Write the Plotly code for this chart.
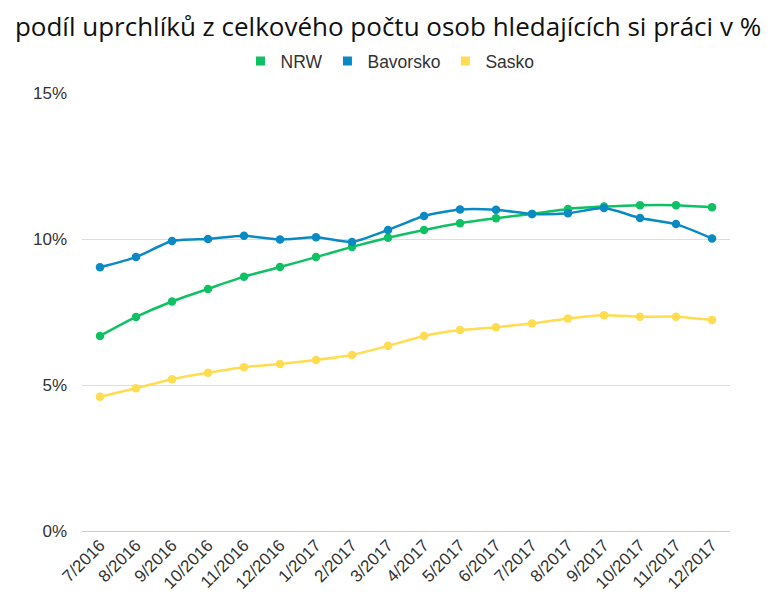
import plotly.graph_objects as go

months = ["7/2016", "8/2016", "9/2016", "10/2016", "11/2016", "12/2016",
          "1/2017", "2/2017", "3/2017", "4/2017", "5/2017", "6/2017",
          "7/2017", "8/2017", "9/2017", "10/2017", "11/2017", "12/2017"]

nrw = [6.68, 7.33, 7.86, 8.29, 8.71, 9.04, 9.38, 9.73, 10.04, 10.31, 10.54, 10.71,
       10.86, 11.03, 11.11, 11.16, 11.16, 11.09]
bavorsko = [9.03, 9.38, 9.93, 10.0, 10.11, 9.98, 10.06, 9.90, 10.31, 10.79, 11.01, 11.0,
            10.86, 10.88, 11.06, 10.72, 10.51, 10.02]
sasko = [4.60, 4.89, 5.20, 5.42, 5.61, 5.72, 5.86, 6.03, 6.34, 6.68, 6.88, 6.98,
         7.11, 7.28, 7.39, 7.34, 7.34, 7.23]

series_names = ["NRW", "Bavorsko", "Sasko"]
series_values = [nrw, bavorsko, sasko]
colors = ["#10c065", "#0a8ac4", "#ffdc50"]

y_ticks = [0, 5, 10, 15]
y_tick_text = ["0%", "5%", "10%", "15%"]

fig = go.Figure()
for name, vals, col in zip(series_names, series_values, colors):
    fig.add_trace(go.Scatter(
        x=months, y=vals, mode="lines+markers", name=name,
        line=dict(color=col, width=2.5, shape="spline", smoothing=0.6),
        marker=dict(color=col, size=8.5),
        showlegend=False,
    ))
for name, col in zip(series_names, colors):
    fig.add_trace(go.Scatter(
        x=[None], y=[None], mode="markers", name=name,
        marker=dict(color=col, size=9, symbol="square"),
        showlegend=True,
    ))

W, H = 762, 596  # page adds an 8px body margin
fig.update_layout(
    width=W, height=H,
    margin=dict(l=74, r=40, t=85, b=73, autoexpand=False),
    paper_bgcolor="white", plot_bgcolor="white",
    title=dict(text="podíl uprchlíků z celkového počtu osob hledajících si práci v %",
               x=380 / W, xanchor="center", xref="container",
               y=1 - 19 / H, yanchor="middle", yref="container",
               font=dict(family="Open Sans", size=26, weight=500, color="#111")),
    legend=dict(orientation="h", x=382 / W, xanchor="center", xref="container",
                y=1 - 53 / H, yanchor="middle", yref="container",
                font=dict(family="Liberation Sans, Arial", size=17.5, color="#333"),
                itemwidth=30, tracegroupgap=0),
    showlegend=True,
    xaxis=dict(type="category", range=[-0.5, len(months) - 0.5], tickangle=-45,
               showgrid=False, showline=False, ticks="", automargin=False,
               tickfont=dict(family="Liberation Sans, Arial", size=17, color="#333")),
    yaxis=dict(range=[0, 15], tickvals=y_ticks, ticktext=y_tick_text, showgrid=True,
               gridcolor="#dddddd", gridwidth=1, zeroline=True, zerolinecolor="#cccccc",
               zerolinewidth=1, showline=False, ticks="", ticklabelstandoff=14,
               automargin=False,
               tickfont=dict(family="Liberation Sans, Arial", size=17, color="#333")),
)

fig.write_html("out.html")
